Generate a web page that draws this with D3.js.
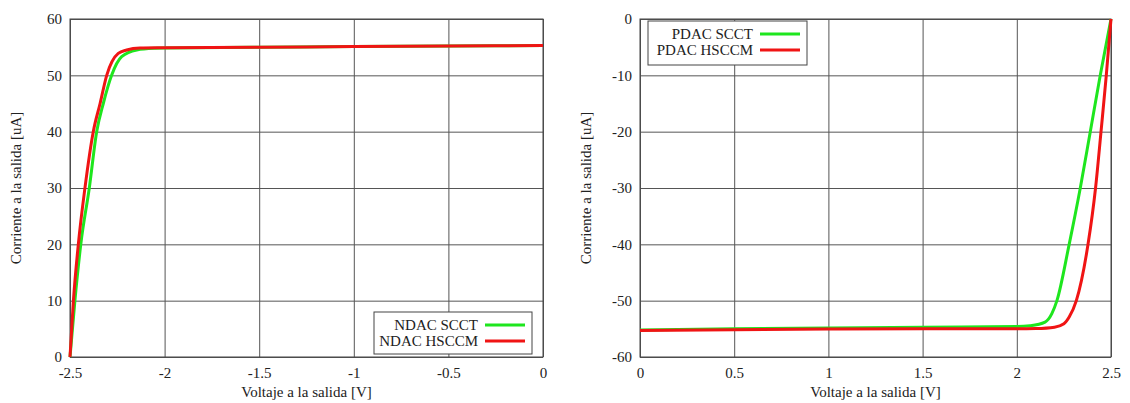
<!DOCTYPE html>
<html>
<head>
<meta charset="utf-8">
<script src="https://cdn.jsdelivr.net/npm/d3@7"></script>
<style>
  body { margin: 0; background: #fff; }
  svg text { font-family: "Liberation Serif", "Times New Roman", serif; }
</style>
</head>
<body>
<svg id="chart" width="1130" height="403"></svg>
<script>
// left panel: NDAC, voltage vs current
var ndacScctV = [-2.5, -2.474, -2.443, -2.398, -2.359, -2.324, -2.28, -2.227, -2.147, -2.05, -2.0, -1.5, -1.0, -0.5, 0];
var ndacScctI = [0, 10, 20, 30, 40, 45, 50, 53.3, 54.5, 54.8, 54.85, 55.0, 55.1, 55.2, 55.3];
var ndacHsccmV = [-2.5, -2.482, -2.456, -2.421, -2.377, -2.341, -2.306, -2.245, -2.2, -2.13, -2.0, -1.5, -1.0, -0.5, 0];
var ndacHsccmI = [0, 10, 20, 30, 40, 45, 50, 53.9, 54.5, 54.85, 54.9, 55.0, 55.1, 55.2, 55.3];

// right panel: PDAC
var pdacScctV = [0, 0.5, 1.0, 1.5, 2.0, 2.07, 2.15, 2.186, 2.213, 2.278, 2.337, 2.39, 2.443, 2.5];
var pdacScctI = [-55.2, -55.0, -54.85, -54.7, -54.6, -54.45, -53.8, -52.3, -50, -40, -30, -20, -10, 0];
var pdacHsccmV = [0, 0.5, 1.0, 1.5, 2.0, 2.1, 2.2, 2.25, 2.278, 2.316, 2.378, 2.418, 2.447, 2.475, 2.5];
var pdacHsccmI = [-55.3, -55.15, -55.05, -55.0, -55.0, -54.95, -54.7, -54.1, -52.9, -50, -40, -30, -20, -10, 0];

var leftXTicks = [-2.5, -2, -1.5, -1, -0.5, 0];
var leftYTicks = [0, 10, 20, 30, 40, 50, 60];
var rightXTicks = [0, 0.5, 1, 1.5, 2, 2.5];
var rightYTicks = [-60, -50, -40, -30, -20, -10, 0];

var xTitle = "Voltaje a la salida [V]";
var yTitle = "Corriente a la salida [uA]";

var green = "#1ee61e";
var red = "#f01414";
var ink = "#222";

var svg = d3.select("#chart");

function zip(xs, ys) {
  return xs.map((x, i) => [x, ys[i]]);
}

function panel(opts) {
  var g = svg.append("g");
  var x = d3.scaleLinear().domain(opts.xDomain).range([opts.left, opts.right]);
  var y = d3.scaleLinear().domain(opts.yDomain).range([opts.bottom, opts.top]);

  // grid
  g.append("g")
    .attr("transform", `translate(0,${opts.bottom})`)
    .call(d3.axisBottom(x).tickValues(opts.xTicks).tickSize(-(opts.bottom - opts.top)).tickFormat(""))
    .call(a => a.select(".domain").remove())
    .selectAll("line").attr("stroke", "#555").attr("stroke-width", 1);
  g.append("g")
    .attr("transform", `translate(${opts.left},0)`)
    .call(d3.axisLeft(y).tickValues(opts.yTicks).tickSize(-(opts.right - opts.left)).tickFormat(""))
    .call(a => a.select(".domain").remove())
    .selectAll("line").attr("stroke", "#555").attr("stroke-width", 1);

  // tick labels, plain hyphen for negatives like the original
  var fmt = d => String(d);
  var xa = g.append("g")
    .attr("transform", `translate(0,${opts.bottom})`)
    .call(d3.axisBottom(x).tickValues(opts.xTicks).tickSize(0).tickPadding(10).tickFormat(fmt));
  xa.select(".domain").remove();
  xa.attr("font-family", null);
  xa.selectAll("text").style("font-size", "15px").attr("fill", ink);
  var ya = g.append("g")
    .attr("transform", `translate(${opts.left},0)`)
    .call(d3.axisLeft(y).tickValues(opts.yTicks).tickSize(0).tickPadding(8).tickFormat(fmt));
  ya.select(".domain").remove();
  ya.attr("font-family", null);
  ya.selectAll("text").style("font-size", "15px").attr("fill", ink);

  // frame
  g.append("rect")
    .attr("x", opts.left).attr("y", opts.top)
    .attr("width", opts.right - opts.left).attr("height", opts.bottom - opts.top)
    .attr("fill", "none").attr("stroke", "#444").attr("stroke-width", 1);

  var line = d3.line().x(d => x(d[0])).y(d => y(d[1])).curve(d3.curveMonotoneX);
  opts.series.forEach(s => {
    g.append("path")
      .attr("d", line(zip(s.xs, s.ys)))
      .attr("fill", "none")
      .attr("stroke", s.color)
      .attr("stroke-width", 3)
      .attr("stroke-linejoin", "round");
  });

  // axis titles
  g.append("text")
    .attr("x", (opts.left + opts.right) / 2)
    .attr("y", 397)
    .attr("text-anchor", "middle")
    .style("font-size", "15px")
    .attr("fill", ink)
    .text(xTitle);
  g.append("text")
    .attr("transform", `translate(${opts.left - 49},${(opts.top + opts.bottom) / 2}) rotate(-90)`)
    .attr("text-anchor", "middle")
    .style("font-size", "15px")
    .attr("fill", ink)
    .text(yTitle);

  // legend
  var lg = g.append("g");
  lg.append("rect")
    .attr("x", opts.legend.x).attr("y", opts.legend.y)
    .attr("width", opts.legend.w).attr("height", opts.legend.h)
    .attr("fill", "#fff").attr("stroke", "#444").attr("stroke-width", 1);
  opts.series.forEach((s, i) => {
    var ly = opts.legend.y + 13 + i * 16;
    lg.append("text")
      .attr("x", opts.legend.x + opts.legend.w - 54)
      .attr("y", ly)
      .attr("dy", "0.35em")
      .attr("text-anchor", "end")
      .style("font-size", "15px")
      .attr("fill", ink)
      .text(s.name);
    lg.append("line")
      .attr("x1", opts.legend.x + opts.legend.w - 47)
      .attr("x2", opts.legend.x + opts.legend.w - 7)
      .attr("y1", ly).attr("y2", ly)
      .attr("stroke", s.color).attr("stroke-width", 3);
  });
}

panel({
  left: 70, right: 543, top: 19, bottom: 357,
  xDomain: [-2.5, 0], yDomain: [0, 60],
  xTicks: leftXTicks, yTicks: leftYTicks,
  legend: { x: 374, y: 312, w: 158, h: 42 },
  series: [
    { name: "NDAC SCCT", xs: ndacScctV, ys: ndacScctI, color: green },
    { name: "NDAC HSCCM", xs: ndacHsccmV, ys: ndacHsccmI, color: red }
  ]
});

panel({
  left: 640, right: 1111, top: 19, bottom: 357,
  xDomain: [0, 2.5], yDomain: [-60, 0],
  xTicks: rightXTicks, yTicks: rightYTicks,
  legend: { x: 648, y: 21, w: 159, h: 44 },
  series: [
    { name: "PDAC SCCT", xs: pdacScctV, ys: pdacScctI, color: green },
    { name: "PDAC HSCCM", xs: pdacHsccmV, ys: pdacHsccmI, color: red }
  ]
});
</script>
</body>
</html>
